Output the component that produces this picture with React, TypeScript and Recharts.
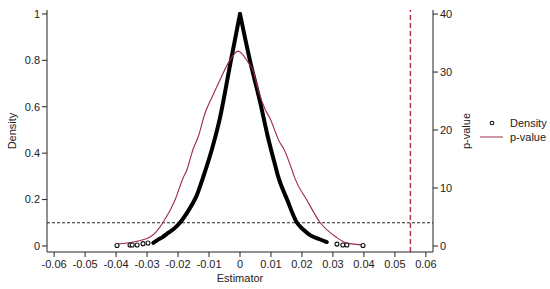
import React from 'react';
import { ComposedChart, Line, Scatter, XAxis, YAxis, ReferenceLine } from 'recharts';

// tick labels
const xTicks = [-0.06, -0.05, -0.04, -0.03, -0.02, -0.01, 0, 0.01, 0.02, 0.03, 0.04, 0.05, 0.06];
const densityTicks = [0, 0.2, 0.4, 0.6, 0.8, 1];
const pValueTicks = [0, 10, 20, 30, 40];

// black dotted curve (left axis), dense part, left of the peak
const leftX = [-0.028, -0.0268, -0.025, -0.0232, -0.021, -0.0194, -0.017, -0.0152, -0.0139, -0.0123, -0.0113, -0.009, -0.0065, -0.0032, 0];
const leftY = [0.013, 0.024, 0.038, 0.056, 0.078, 0.1, 0.145, 0.185, 0.22, 0.28, 0.32, 0.42, 0.55, 0.78, 1];
// right of the peak
const rightX = [0, 0.0032, 0.0065, 0.009, 0.0113, 0.0123, 0.0152, 0.0184, 0.0205, 0.0226, 0.0255, 0.028];
const rightY = [1, 0.8, 0.62, 0.47, 0.35, 0.3, 0.2, 0.1, 0.07, 0.047, 0.03, 0.017];

// isolated dots in the tails
const tailX = [-0.0397, -0.0355, -0.0348, -0.0332, -0.0313, -0.0297, 0.0313, 0.0332, 0.0345, 0.0397];
const tailY = [0.002, 0.004, 0.004, 0.004, 0.01, 0.013, 0.008, 0.004, 0.004, 0.002];

// red line (right axis)
const lineX = [
  -0.04, -0.0329, -0.029, -0.027, -0.0248, -0.021, -0.0184, -0.0171, -0.0161, -0.0152, -0.0135,
  -0.0113, -0.009, -0.0065, -0.0032, -0.0006, 0.0026, 0.0042, 0.0058, 0.0081, 0.0097, 0.0129,
  0.0139, 0.0168, 0.0177, 0.0216, 0.0258, 0.031, 0.0345, 0.04
];
const lineY = [
  0.3, 0.86, 1.55, 2.5, 4.1, 7.9, 11.7, 13.2, 15.0, 16.6, 18.8,
  22.9, 25.7, 28.6, 32.1, 33.6, 31.7, 30.3, 27.0, 23.6, 22.0, 17.8,
  17.0, 13.1, 11.7, 7.9, 4.1, 1.55, 0.5, 0.2
];

const cutoffP = 0.1;
const cutoffX = 0.055;

const leftData = leftX.map((x, i) => ({ x, y: leftY[i] }));
const rightData = rightX.map((x, i) => ({ x, y: rightY[i] }));
const tailData = tailX.map((x, i) => ({ x, y: tailY[i] }));
const lineData = lineX.map((x, i) => ({ x, y: lineY[i] }));

const red = '#9e2944';
const font = '"Liberation Sans", Arial, sans-serif';
const tickStyle = { fill: '#222', fontSize: 11, fontFamily: font };

const fmtX = (v: number) => (v === 0 ? '0' : v.toFixed(2));

const hollowDot = (p: any) => <circle cx={p.cx} cy={p.cy} r={2} fill="#fff" stroke="#111" strokeWidth={1.1} />;

export default function App() {
  return (
    <div style={{ position: 'absolute', left: 0, top: 0, width: 550, height: 289, background: '#fff' }}>
      <ComposedChart width={550} height={289} margin={{ top: 10, right: 0, bottom: 0, left: 0 }}>
        <XAxis
          type="number"
          dataKey="x"
          domain={[-0.0623, 0.0623]}
          allowDataOverflow
          ticks={xTicks}
          tickFormatter={fmtX}
          height={37}
          tickSize={5}
          tickMargin={3}
          stroke="#222"
          tick={tickStyle}
          label={{ value: 'Estimator', position: 'insideBottom', offset: 7, style: { fill: '#222', fontSize: 11, fontFamily: font } }}
        />
        <YAxis
          yAxisId="left"
          orientation="left"
          type="number"
          domain={[-0.026, 1.017]}
          allowDataOverflow
          ticks={densityTicks}
          width={47}
          tickSize={5}
          tickMargin={2}
          stroke="#222"
          tick={tickStyle}
          label={{ value: 'Density', angle: -90, position: 'insideLeft', offset: 12, style: { fill: '#222', fontSize: 11, fontFamily: font, textAnchor: 'middle' } }}
        />
        <YAxis
          yAxisId="right"
          orientation="right"
          type="number"
          domain={[-1.03, 40.7]}
          allowDataOverflow
          ticks={pValueTicks}
          width={117}
          tickSize={5}
          tickMargin={2}
          stroke="#222"
          tick={tickStyle}
          label={{ value: 'p-value', angle: -90, position: 'insideLeft', offset: 33, style: { fill: '#222', fontSize: 11, fontFamily: font, textAnchor: 'middle' } }}
        />
        <ReferenceLine yAxisId="left" y={cutoffP} stroke="#222" strokeDasharray="3 2" strokeWidth={1} />
        <ReferenceLine yAxisId="left" x={cutoffX} stroke="#b8343f" strokeDasharray="5 3" strokeWidth={1.5} />
        <Line
          yAxisId="left"
          data={leftData}
          dataKey="y"
          type="monotoneX"
          stroke="#000"
          strokeWidth={4}
          strokeLinecap="round"
          dot={false}
          isAnimationActive={false}
        />
        <Line
          yAxisId="left"
          data={rightData}
          dataKey="y"
          type="monotoneX"
          stroke="#000"
          strokeWidth={4}
          strokeLinecap="round"
          dot={false}
          isAnimationActive={false}
        />
        <Scatter
          yAxisId="left"
          data={tailData}
          dataKey="y"
          fill="#fff"
          shape={hollowDot}
          isAnimationActive={false}
        />
        <Line
          yAxisId="right"
          data={lineData}
          dataKey="y"
          type="monotone"
          stroke={red}
          strokeWidth={1.1}
          dot={false}
          isAnimationActive={false}
        />
      </ComposedChart>
      <svg width={80} height={40} style={{ position: 'absolute', left: 475, top: 113 }}>
        <circle cx={17} cy={10} r={1.8} fill="#fff" stroke="#111" strokeWidth={1.1} />
        <text x={35} y={14} fontSize={11} fontFamily={font} fill="#222">Density</text>
        <line x1={5} y1={24} x2={28} y2={24} stroke={red} strokeWidth={1.3} opacity={0.75} />
        <text x={35} y={28} fontSize={11} fontFamily={font} fill="#222">p-value</text>
      </svg>
    </div>
  );
}
